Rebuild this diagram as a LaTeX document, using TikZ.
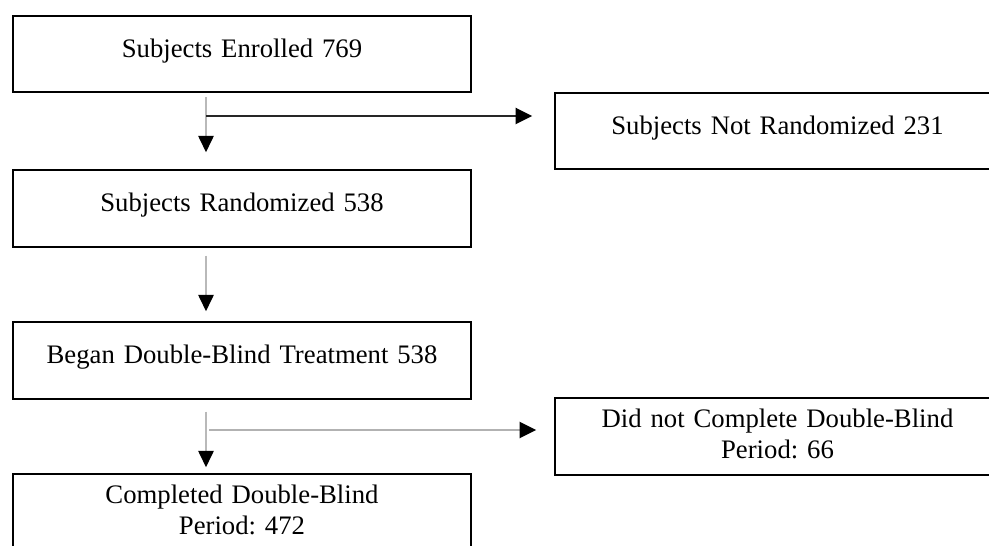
\documentclass[tikz,border=0pt]{standalone}
\usepackage{fontspec}
\setmainfont{Liberation Serif}
\usepackage{tikz}
\usetikzlibrary{arrows.meta, positioning}
\frenchspacing
\tikzset{
    box/.style={rectangle, draw, line width=1pt, minimum width=9.16cm, minimum height=1.53cm, text width=8.9cm, align=center, inner sep=0pt,
        font=\fontsize{15.2}{17.6}\selectfont, execute at end node={\par\kern0.12cm\hrule height0pt}},
    sidebox/.style={box, minimum width=8.9cm, text width=8.6cm},
    down/.style={line width=1.6pt, draw=gray!55, -{Triangle[length=0.33cm, width=0.3cm, color=black]}},
    side/.style={line width=1.3pt, -{Triangle[length=0.33cm, width=0.32cm, color=black]}}
}
\begin{document}
\begin{tikzpicture}
        \useasboundingbox (0,0) rectangle (19.78,-10.92);
        \node (enrol) [box] at (4.84,-1.08) {Subjects Enrolled 769};
        \node (rand) [box] at (4.84,-4.17) {Subjects Randomized 538};
        \node (began) [box] at (4.84,-7.21) {Began Double-Blind Treatment 538};
        \node (compl) [box] at (4.84,-10.25) {Completed Double-Blind\\Period: 472};
        
        \node (notrand) [sidebox] at (15.55,-2.62) {Subjects Not Randomized 231};
        \node (notcompl) [sidebox] at (15.55,-8.73) {Did not Complete Double-Blind\\Period: 66};
        
        % Branch points
        \coordinate (split1) at ([xshift=-0.72cm, yshift=-0.08cm]enrol.south);
        \coordinate (out1) at ([xshift=-0.44cm, yshift=0.3cm]notrand.west);
        \coordinate (split3) at ([xshift=-0.72cm, yshift=-0.24cm]began.south);
        \coordinate (out3) at ([xshift=-0.36cm, yshift=0.13cm]notcompl.west);
        
        \draw [down] (split1) -- ([xshift=-0.72cm, yshift=0.34cm]rand.north);
        \draw [side, draw=black!85] (split1 |- out1) -- (out1);
        \draw [down] ([xshift=-0.72cm, yshift=-0.16cm]rand.south) -- ([xshift=-0.72cm, yshift=0.2cm]began.north);
        \draw [down] (split3) -- ([xshift=-0.72cm, yshift=0.12cm]compl.north);
        \draw [side, draw=gray!60] ([xshift=0.06cm]split3 |- out3) -- (out3);
    \end{tikzpicture}
\end{document}
